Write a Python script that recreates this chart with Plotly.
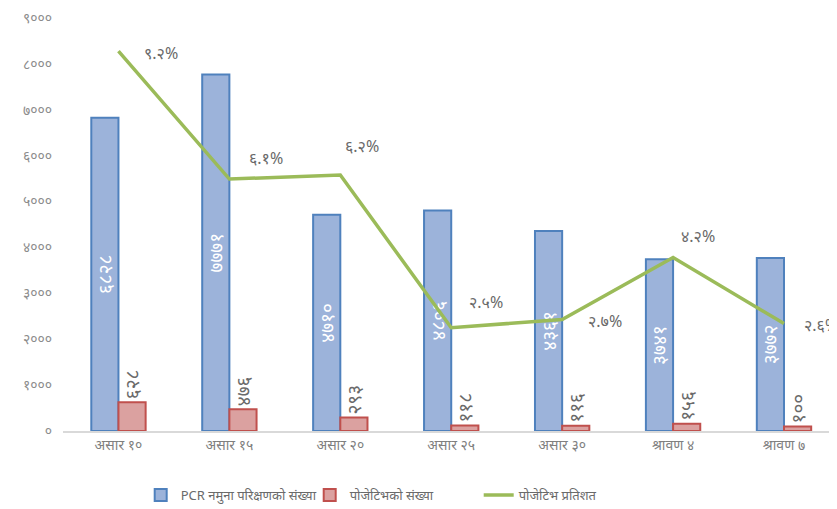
import plotly.graph_objects as go

categories = ["असार १०", "असार १५", "असार २०", "असार २५", "असार ३०", "श्रावण ४", "श्रावण ७"]
pcr_tests = [6828, 7771, 4710, 4806, 4361, 3741, 3772]
positives = [628, 476, 293, 118, 116, 156, 100]
positive_pct = [9.2, 6.1, 6.2, 2.5, 2.7, 4.2, 2.6]
y_tick_values = [0, 1000, 2000, 3000, 4000, 5000, 6000, 7000, 8000, 9000]

DEV = str.maketrans("0123456789", "०१२३४५६७८९")


def dev(s):
    return str(s).translate(DEV)


pct_text = [dev(f"{p:.1f}%") for p in positive_pct]
label_shift = [(24, -2), (18, 21), (3, 29), (16, 26), (24, -2), (6, 22), (18, -1)]

FONT = "Noto Sans, Lato, sans-serif"
GREY = "#6a6a6a"

fig = go.Figure()
fig.add_trace(go.Bar(
    x=categories, y=pcr_tests, name="PCR नमुना परिक्षणको संख्या",
    marker=dict(color="#9cb3da", line=dict(color="#4f81bd", width=2)),
    text=[dev(v) for v in pcr_tests], textposition="inside", textangle=-90,
    insidetextanchor="middle", constraintext="none",
    insidetextfont=dict(color="white", size=19, family=FONT),
    hoverinfo="skip",
))
fig.add_trace(go.Bar(
    x=categories, y=positives, name="पोजेटिभको संख्या",
    marker=dict(color="#dba1a0", line=dict(color="#c0504d", width=2)),
    text=[dev(v) for v in positives], textposition="outside", textangle=-90,
    constraintext="none",
    outsidetextfont=dict(color=GREY, size=19, family=FONT),
    cliponaxis=False, hoverinfo="skip",
))
fig.add_trace(go.Scatter(
    x=categories, y=positive_pct, name="पोजेटिभ प्रतिशत", yaxis="y2",
    mode="lines", line=dict(color="#9bbb59", width=3.5), hoverinfo="skip",
))

for c, p, t, (dx, dy) in zip(categories, positive_pct, pct_text, label_shift):
    fig.add_annotation(x=c, y=p, yref="y2", text=t, showarrow=False,
                       xanchor="left", yanchor="middle", xshift=dx, yshift=dy,
                       font=dict(color=GREY, size=16, family=FONT))

fig.update_layout(
    width=837, height=509,
    margin=dict(l=55, r=5, t=10, b=86, autoexpand=False),
    paper_bgcolor="white", plot_bgcolor="white",
    barmode="group", bargap=0.51, bargroupgap=0,
    font=dict(family=FONT, color="#7f7f7f"),
    xaxis=dict(showline=True, linecolor="#d9d9d9", linewidth=2, ticks="",
               tickfont=dict(size=14, color="#7f7f7f"), showgrid=False,
               automargin=False),
    yaxis=dict(range=[0, 9000], tickvals=y_tick_values,
               ticktext=[dev(v) for v in y_tick_values], showgrid=False,
               zeroline=False, showline=False, ticks="", ticklabelstandoff=10,
               ticklabeloverflow="allow",
               tickfont=dict(size=14, color="#8c8c8c"), automargin=False),
    yaxis2=dict(range=[0, 10], overlaying="y", visible=False),
    legend=dict(orientation="h", x=0.10, xanchor="left", y=-0.155, yanchor="middle",
                font=dict(size=13, color=GREY), entrywidth=124,
                entrywidthmode="pixels", traceorder="normal"),
    showlegend=True,
)

fig.write_html("out.html")
